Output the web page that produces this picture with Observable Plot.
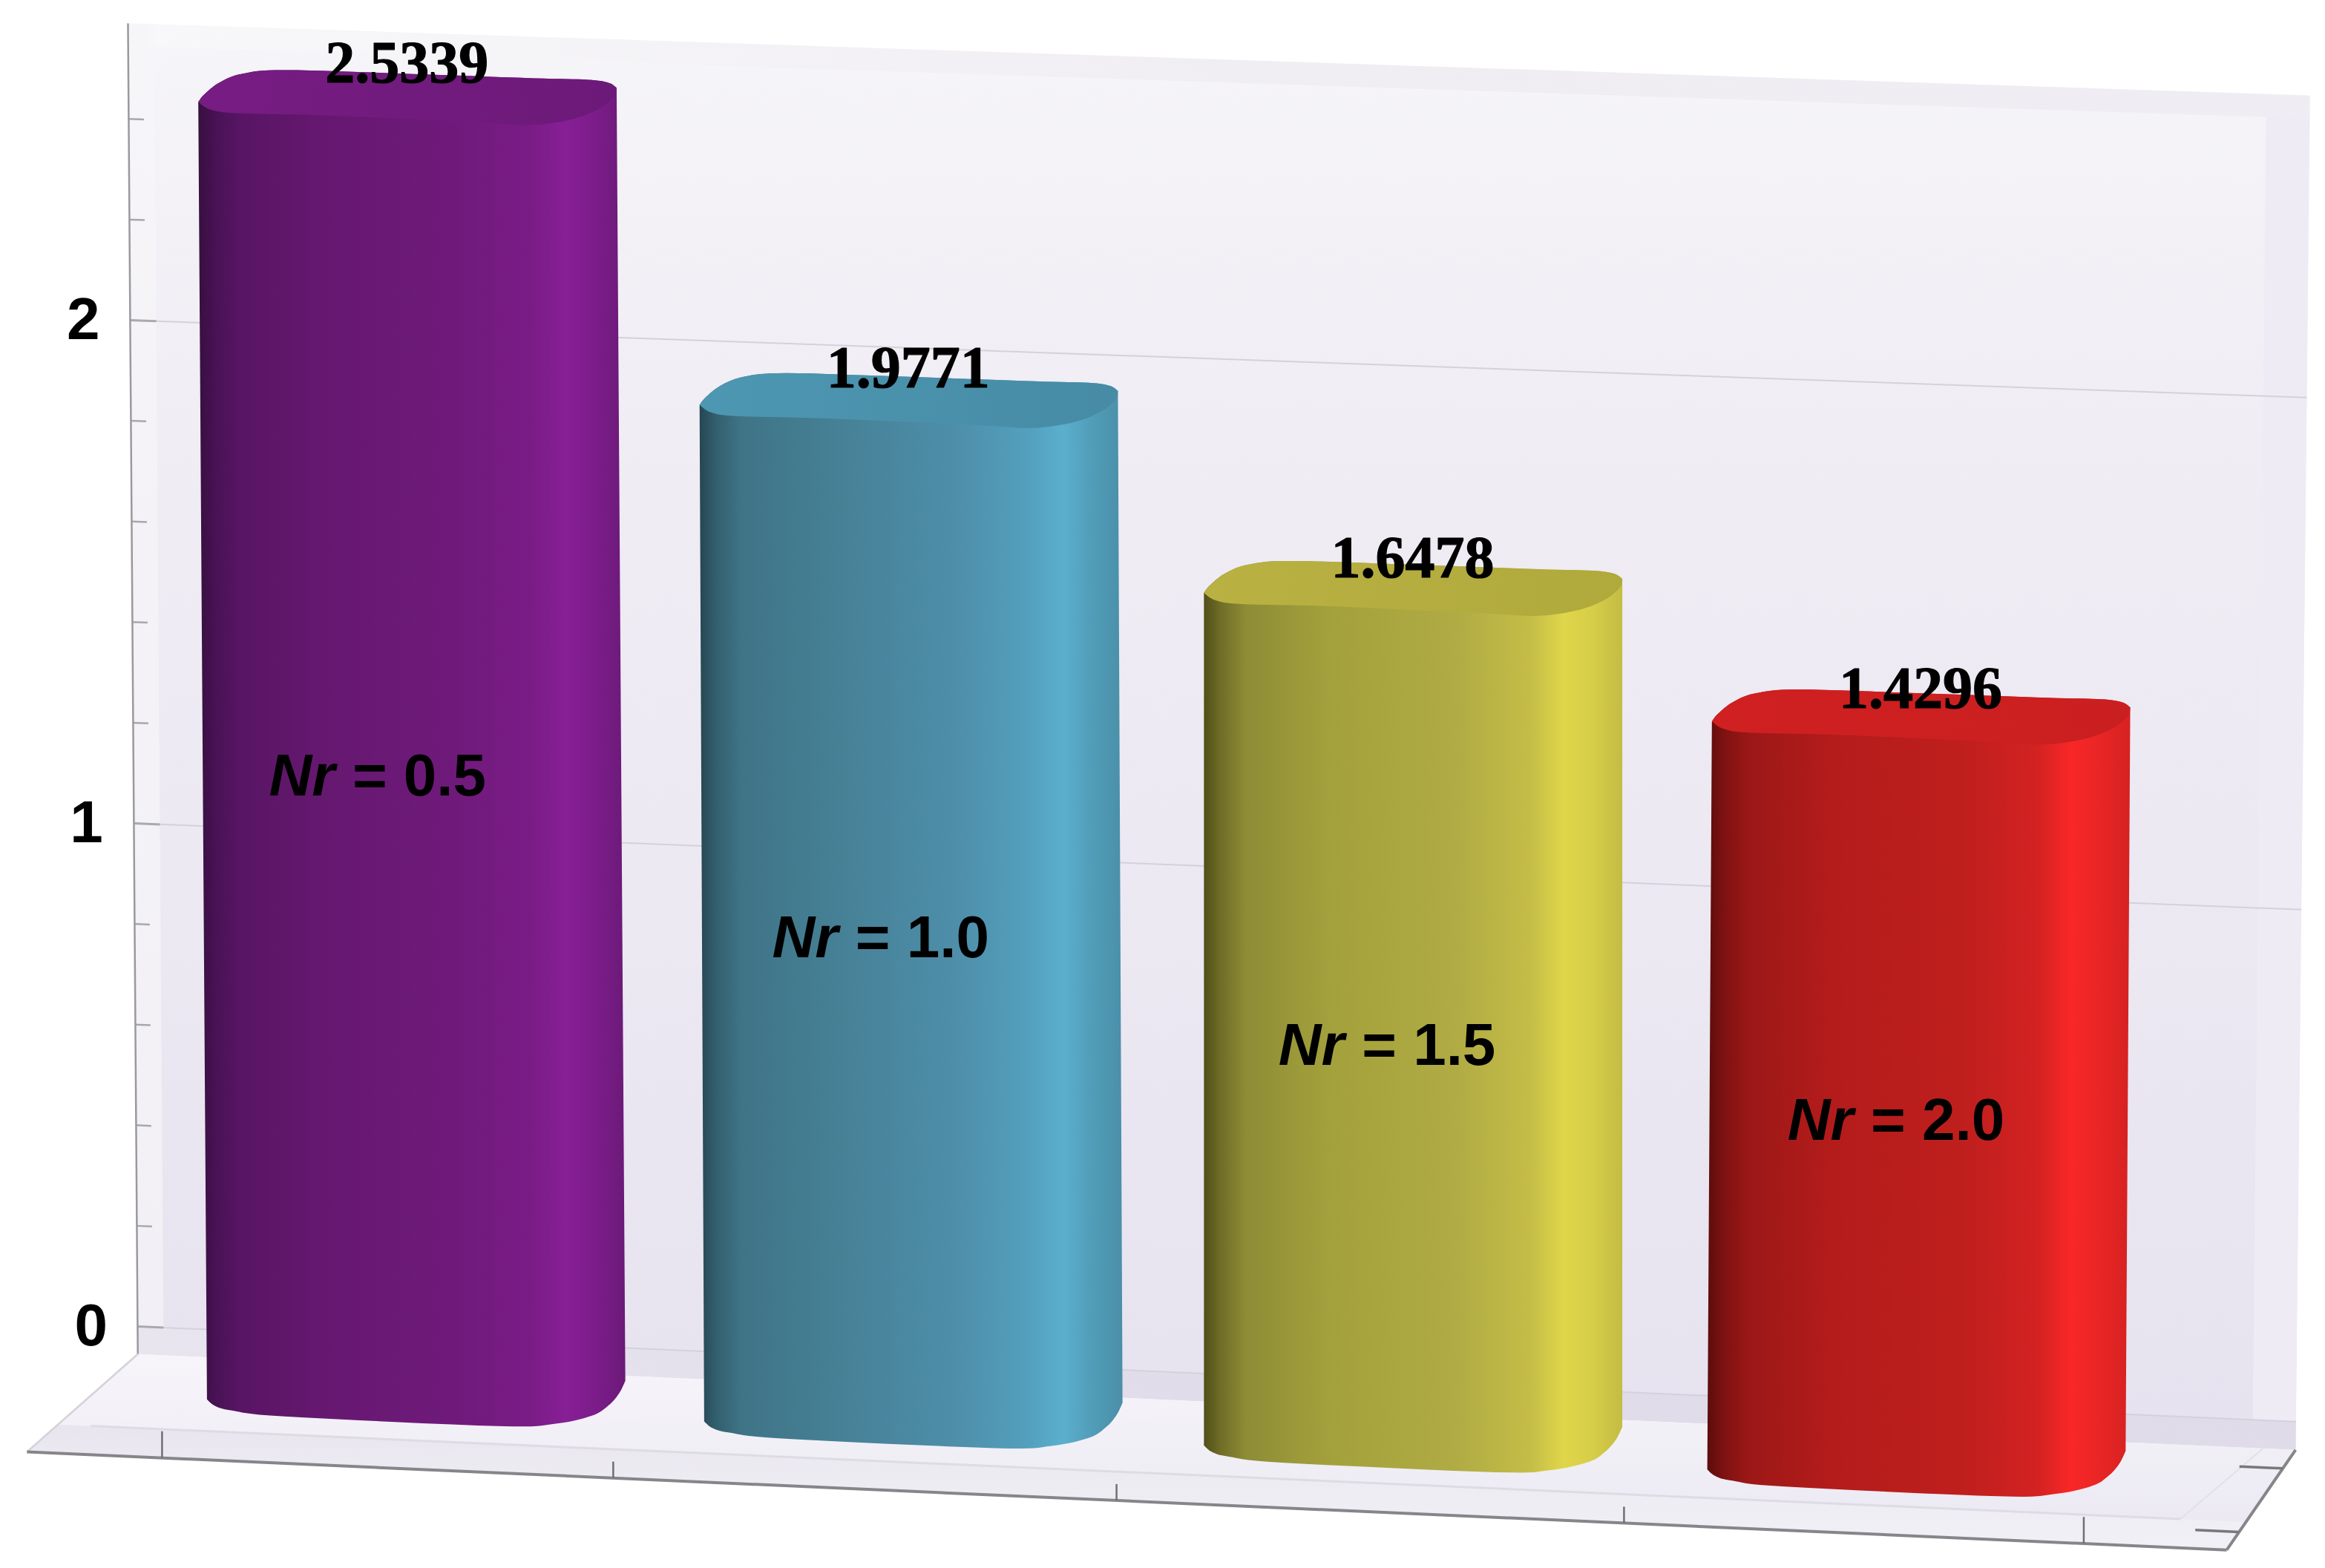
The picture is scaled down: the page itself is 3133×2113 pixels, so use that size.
<!DOCTYPE html>
<html>
<head>
<meta charset="utf-8">
<script src="https://cdn.jsdelivr.net/npm/d3@7"></script>
<script src="https://cdn.jsdelivr.net/npm/@observablehq/plot@0.6"></script>
<style>html,body{margin:0;padding:0;background:#fff}svg{display:block;filter:blur(0.7px)}</style>
</head>
<body>
<div id="chart"></div>
<script>
// ---- data ----
const nrNames = ["0.5", "1.0", "1.5", "2.0"];
const values = [2.5339, 1.9771, 1.6478, 1.4296];
const valueTicks = [0, 1, 2];
const valueMinorTicks = [0.2, 0.4, 0.6, 0.8, 1.2, 1.4, 1.6, 1.8, 2.2, 2.4];
const tickLabelX = [0.177, 0.168, 0.162];          // axis-label centres for 0, 1, 2

// ---- scene layout, in chart units (1 unit = one value unit on the front bar) ----
const W = 3133, H = 2113, U = 690;
const barCentre = [0.812, 1.783, 2.759, 3.742];
const barFoot = [0.330, 0.287, 0.240, 0.193];
const barLean = [-0.017, -0.009, 0, 0.009];
const barDepthScale = [1, 1.004, 1.0105, 1.022];
const barWidth = 0.817;
const labelLift = [0.075, 0.071, 0.067, 0.063];
const nrStart = [0.5245, 1.507, 2.496, 3.490];
const nrHeight = [1.216, 0.943, 0.781, 0.681];
const floorTicks = [[0.0614, 0.052], [0.2665, 0.032], [0.4953, 0.032], [0.726, 0.032], [0.935, 0.052]];
const sideTicks = [0.186, 0.82];

// ---- colours ----
const gradOffsets = [0, 0.04, 0.1, 0.3, 0.6, 0.78, 0.86, 0.93, 1];
const barStops = [
  ["#37103f", "#481254", "#581564", "#661870", "#6f1a7b", "#7a1c86", "#871f96", "#7c1c8a", "#6b1a78"],
  ["#264652", "#33606f", "#3f7486", "#457f94", "#4e8ea9", "#53a0bd", "#5bafce", "#519cb8", "#4a8fa8"],
  ["#514f17", "#6f6d27", "#8e8c35", "#a3a13c", "#b0ab44", "#c4bd47", "#e0d64a", "#d6cd48", "#c4bc44"],
  ["#5c0d0b", "#7e1211", "#9c1817", "#b41c1b", "#be1f1d", "#d32222", "#f92727", "#e82525", "#d52221"]
];
const capStops = [
  ["#771c83", "#6c1a79"],
  ["#4d97b2", "#478ba5"],
  ["#b9b142", "#b0a93c"],
  ["#d02021", "#ca1f20"]
];

// ---- projection of the chart box onto the page ----
const lerp = (a, b, t) => a + (b - a) * t;
const wall = (s, v) => ({
  x: lerp(0.268 - 0.00725 * v, 4.483 + 0.0106 * v, s),
  y: lerp(0.4725 + 0.9826 * v, 0.2865 + v, s)
});
const floor = (s, d) => {
  const b = wall(s, -0.055);
  return { x: lerp(b.x, lerp(0.052, 4.348, s), d), y: lerp(b.y, lerp(0.2275, 0.036, s), d) };
};
const wallRect = (s0, s1, v0, v1) => [wall(s0, v0), wall(s1, v0), wall(s1, v1), wall(s0, v1)];
const floorRect = (s0, s1, d0, d1) => [floor(s0, d0), floor(s1, d0), floor(s1, d1), floor(s0, d1)];
const seg = (a, b) => ({ x1: a.x, y1: a.y, x2: b.x, y2: b.y });

// rounded bar outlines: [fraction across the bar, offset along the page in 1/690 units]
const topRim = [[0, 0], [0.014, -10], [0.05, -26], [0.105, -38], [0.208, -43], [0.5, -38], [0.8, -32], [0.93, -30], [0.98, -26], [1, -19]];
const capFront = [[1, -19], [0.995, -8], [0.965, 7], [0.914, 20], [0.85, 28], [0.78, 31], [0.657, 27], [0.3, 18], [0.09, 15], [0.028, 10], [0, 0]];
const footRim = [[1, -25], [0.985, -8], [0.96, 8], [0.92, 22], [0.83, 33], [0.695, 36], [0.186, 23], [0.06, 15], [0.02, 9], [0, 0]];

// smooth an outline with a Catmull-Rom spline, sharp at both ends
function smooth(pts, n = 8) {
  const out = [];
  for (let k = 0; k < pts.length - 1; k++) {
    const p0 = pts[Math.max(k - 1, 0)], p1 = pts[k], p2 = pts[k + 1], p3 = pts[Math.min(k + 2, pts.length - 1)];
    for (let j = 0; j < n; j++) {
      const t = j / n, t2 = t * t, t3 = t2 * t;
      out.push([0, 1].map((c) =>
        0.5 * (2 * p1[c] + (p2[c] - p0[c]) * t + (2 * p0[c] - 5 * p1[c] + 4 * p2[c] - p3[c]) * t2 +
          (3 * p1[c] - p0[c] - 3 * p2[c] + p3[c]) * t3)));
    }
  }
  out.push(pts[pts.length - 1]);
  return out;
}

const barTop = (i) => barFoot[i] + values[i] * barDepthScale[i];
const atTop = (i) => ([s, o]) => ({
  x: barCentre[i] + barLean[i] + (s - 0.5) * barWidth,
  y: barTop(i) - o / U
});
const atFoot = (i) => ([s, o]) => ({
  x: barCentre[i] + (s - 0.5) * barWidth,
  y: barFoot[i] - o / U
});

function gradient(id, colors, offsets, vertical) {
  const stops = colors.map((c, k) =>
    `<stop offset="${offsets ? offsets[k] : k / (colors.length - 1)}" stop-color="${c}"/>`).join("");
  return `<linearGradient id="${id}" x1="0" y1="0" x2="${vertical ? 0 : 1}" y2="${vertical ? 1 : 0}">${stops}</linearGradient>`;
}
const defs = () => {
  const g = document.createElementNS("http://www.w3.org/2000/svg", "defs");
  g.innerHTML =
    barStops.map((c, i) => gradient("bar" + i, c, gradOffsets)).join("") +
    capStops.map((c, i) => gradient("cap" + i, c)).join("") +
    gradient("wallFill", ["#f6f5f8", "#efecf4", "#ebe8f2", "#e6e2ef"], null, true) +
    gradient("floorFill", ["#f7f5fa", "#f1eff6", "#e9e6f0"], null, true) +
    gradient("lipFill", ["#e8e5ee", "#eeecf3", "#f2f0f7"], null, true) +
    gradient("topStrip", ["#f8f7f9", "#f0eef3", "#efedf3"]) +
    gradient("bandFill", ["#e8e5ef", "#e0dcea", "#dfdbe9"]);
  return g;
};

const poly = (pts, fill, extra = {}) =>
  Plot.line(pts, { x: "x", y: "y", fill, stroke: "none", ...extra });

const barMarks = values.flatMap((v, i) => [
  poly([...smooth(topRim).map(atTop(i)), ...smooth(footRim).map(atFoot(i))], `url(#bar${i})`),
  poly([...smooth(topRim), ...smooth(capFront)].map(atTop(i)), `url(#cap${i})`)
]);

const minorSegs = valueMinorTicks.map((v) => seg(wall(0, v), wall(0.007, v)));
const majorTickSegs = valueTicks.map((v) => seg(wall(0, v), wall(0.012, v)));
const gridSegs = valueTicks.map((v) => seg(wall(0, v), wall(1, v)));
const floorTickSegs = floorTicks.map(([s, h]) => {
  const p = floor(s, 1);
  return seg(p, { x: p.x, y: p.y + h });
});
const sideTickSegs = sideTicks.map((d) => seg(floor(0.98, d), floor(1, d)));

const serif = "'Liberation Serif','Times New Roman',serif";
const sans = "'Liberation Sans',Arial,sans-serif";
const linkXY = { x1: "x1", y1: "y1", x2: "x2", y2: "y2" };

const chart = Plot.plot({
  width: W, height: H,
  marginTop: 0, marginRight: 0, marginBottom: 0, marginLeft: 0,
  style: { background: "#ffffff" },
  x: { domain: [0, W / U], range: [0, W], axis: null },
  y: { domain: [0, H / U], range: [H, 0], axis: null },
  marks: [
    defs,
    // back wall and frame strips
    poly(wallRect(0, 1, -0.055, 2.59), "url(#wallFill)"),
    poly(wallRect(0.01, 1, 2.545, 2.59), "url(#topStrip)"),
    poly(wallRect(0.98, 1, -0.055, 2.545), "#eeebf4"),
    poly(wallRect(0, 0.012, 0, 2.59), "#f6f5f8", { fillOpacity: 0.7 }),
    poly(wallRect(0, 1, -0.055, 0), "url(#bandFill)"),
    // floor
    poly(floorRect(0, 1, 0, 1), "url(#floorFill)"),
    poly(floorRect(0, 1, 0.72, 1), "url(#lipFill)"),
    Plot.link([seg(floor(0.015, 0.72), floor(0.97, 0.72))], { ...linkXY, stroke: "#dedbe4", strokeWidth: 3 }),
    Plot.link([seg(wall(0.985, -0.055), floor(0.97, 0.72))], { ...linkXY, stroke: "#e2e0e8", strokeWidth: 2 }),
    // grid lines and axes
    Plot.link(gridSegs, { ...linkXY, stroke: "#d5d1dc", strokeWidth: 2 }),
    Plot.link(minorSegs, { ...linkXY, stroke: "#a8a8ac", strokeWidth: 2.5 }),
    Plot.link(majorTickSegs, { ...linkXY, stroke: "#aaaaae", strokeWidth: 3 }),
    Plot.link([seg(wall(0, -0.055), wall(0, 2.59))], { ...linkXY, stroke: "#9a9a9e", strokeWidth: 2.5 }),
    Plot.link([seg(floor(0, 0), floor(0, 1))], { ...linkXY, stroke: "#d4d2da", strokeWidth: 2.5 }),
    Plot.link([seg(floor(0, 1), floor(1, 1)), seg(floor(1, 1), floor(1, 0))], { ...linkXY, stroke: "#85858a", strokeWidth: 4 }),
    Plot.link(floorTickSegs, { ...linkXY, stroke: "#6f6f74", strokeWidth: 2.5 }),
    Plot.link(sideTickSegs, { ...linkXY, stroke: "#77777c", strokeWidth: 3.5 }),
    // axis labels
    Plot.text(valueTicks, {
      x: (_, i) => tickLabelX[i],
      y: (d) => wall(0, d).y,
      text: (d) => String(d),
      fontFamily: sans, fontWeight: "bold", fontSize: 80, fill: "#000"
    }),
    // bars
    ...barMarks,
    // value labels
    Plot.text(values, {
      x: (_, i) => barCentre[i] + barLean[i] - 0.001,
      y: (d, i) => barTop(i) + labelLift[i],
      text: (d) => d.toFixed(4),
      fontFamily: serif, fontWeight: "bold", fontSize: 80, fill: "#000",
      stroke: "#000", strokeWidth: 1.2
    }),
    // Nr labels: italic symbol + upright value
    Plot.text(nrNames, {
      x: (_, i) => nrStart[i] + 0.129,
      y: (_, i) => barFoot[i] + nrHeight[i],
      text: () => "Nr",
      textAnchor: "end",
      fontFamily: sans, fontWeight: "bold", fontStyle: "italic", fontSize: 80, fill: "#000"
    }),
    Plot.text(nrNames, {
      x: (_, i) => nrStart[i] + 0.163,
      y: (_, i) => barFoot[i] + nrHeight[i],
      text: (d) => "= " + d,
      textAnchor: "start",
      fontFamily: sans, fontWeight: "bold", fontSize: 80, fill: "#000"
    })
  ]
});
document.getElementById("chart").appendChild(chart);
</script>
</body>
</html>
